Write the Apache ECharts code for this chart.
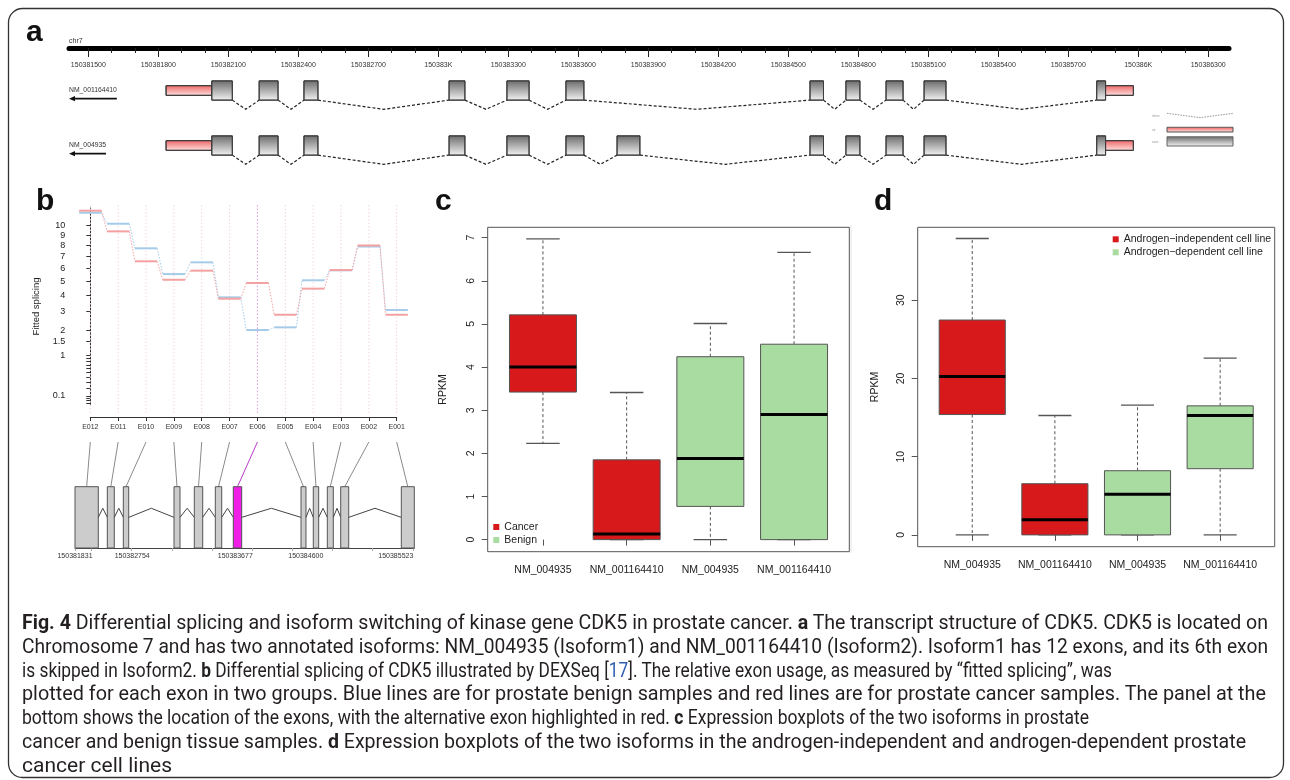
<!DOCTYPE html>
<html>
<head>
<meta charset="utf-8">
<script src="https://cdn.jsdelivr.net/npm/echarts@6/dist/echarts.min.js"></script>
<style>
html, body { margin: 0; padding: 0; background: #fff; }
#chart { position: absolute; left: 0; top: 0; width: 1290px; height: 780px; }
.cap { position: absolute; left: 22px; white-space: nowrap; font-family: 'Open Sans', sans-serif; font-size: 19.5px; line-height: 24px; color: #231f20; transform-origin: 0 50%; }
.cap b { font-weight: 700; }
.cap .ref { color: #2f5fb3; }
</style>
</head>
<body>
<div id="chart"></div>
<div id="caption"></div>
<script>
var FONT = '"Liberation Sans", Arial, Helvetica, sans-serif';
var RED = '#d7191c', GREEN = '#a9dca0';

/* a: CDK5 exons on chr7 (bp) */
var chrLabels = [150381500, 150381800, 150382100, 150382400, 150382700, 150383000, 150383300, 150383600,
  150383900, 150384200, 150384500, 150384800, 150385100, 150385400, 150385700, 150386000, 150386300];
var chrMin = 150381417, chrMax = 150386389;
var exonStart = [150381833, 150382232, 150382424, 150383046, 150383294, 150383547, 150383766, 150384593, 150384747, 150384919, 150385082, 150385822];
var exonEnd = [150382117, 150382313, 150382484, 150383114, 150383389, 150383624, 150383864, 150384651, 150384807, 150384992, 150385176, 150385979];
var cdsStart = 150382029, cdsEnd = 150385860;
var transcripts = ['NM_001164410', 'NM_004935'];
var skipped = [6, -1];

/* b: DEXSeq fitted splicing */
var dexExons = ['E012', 'E011', 'E010', 'E009', 'E008', 'E007', 'E006', 'E005', 'E004', 'E003', 'E002', 'E001'];
var altExon = 'E006';
var fittedCancer = [11.65, 9.41, 6.59, 5.10, 5.81, 3.77, 4.86, 2.80, 4.45, 5.86, 8.02, 2.80];
var fittedBenign = [11.42, 10.21, 7.75, 5.54, 6.50, 3.86, 2.01, 2.14, 5.06, 5.84, 7.92, 3.07];
var fittedTicks = [0.1, 1, 1.5, 2, 3, 4, 5, 6, 7, 8, 9, 10];
var fittedMinorTicks = [0.04, 0.06, 0.08, 0.2, 0.3, 0.4, 0.5, 0.6, 0.7, 0.8, 0.9];
var fitMin = 0.027, fitMax = 11.96;
// exon track under panel b, in relative track units 0-100
var trackStart = [0, 9.52, 14.24, 29.18, 35.16, 41.35, 46.65, 66.61, 70.23, 74.36, 78.31, 96.17];
var trackEnd = [6.87, 11.58, 15.83, 30.95, 37.64, 43.24, 49.13, 68.08, 71.82, 76.13, 80.67, 100];
var trackTickPos = [0, 4.92, 16.71, 28.68, 40.58, 52.25, 64.15, 75.94, 87.73, 99.71];
var trackLabelPos = [0, 16.86, 47.24, 68.02, 94.55];
var trackLabels = ['150381831', '150382754', '150383677', '150384600', '150385523'];

/* c, d: boxplots [min, Q1, median, Q3, max] */
var isoforms = ['NM_004935', 'NM_001164410', 'NM_004935', 'NM_001164410'];
var tissueGroups = ['Cancer', 'Benign'];
var tissueCancer = [[2.23, 3.42, 4.00, 5.21, 6.97], [0, 0, 0.13, 1.85, 3.41]];
var tissueBenign = [[0, 0.77, 1.88, 4.24, 5.01], [0, 0, 2.90, 4.53, 6.66]];
var rpkmTicksC = [0, 1, 2, 3, 4, 5, 6, 7];
var cellGroups = ['Androgen\u2212independent cell line', 'Androgen\u2212dependent cell line'];
var cellIndep = [[0, 15.38, 20.23, 27.46, 37.88], [0, 0, 1.95, 6.54, 15.26]];
var cellDep = [[0, 0, 5.18, 8.20, 16.58], [0, 8.46, 15.26, 16.49, 22.58]];
var rpkmTicksD = [0, 10, 20, 30];

var captionLines = [
  '<b>Fig. 4</b> Differential splicing and isoform switching of kinase gene CDK5 in prostate cancer. <b>a</b> The transcript structure of CDK5. CDK5 is located on',
  'Chromosome 7 and has two annotated isoforms: NM_004935 (Isoform1) and NM_001164410 (Isoform2). Isoform1 has 12 exons, and its 6th exon',
  'is skipped in Isoform2. <b>b</b> Differential splicing of CDK5 illustrated by DEXSeq [<span class="ref">17</span>]. The relative exon usage, as measured by \u201cfitted splicing\u201d, was',
  'plotted for each exon in two groups. Blue lines are for prostate benign samples and red lines are for prostate cancer samples. The panel at the',
  'bottom shows the location of the exons, with the alternative exon highlighted in red. <b>c</b> Expression boxplots of the two isoforms in prostate',
  'cancer and benign tissue samples. <b>d</b> Expression boxplots of the two isoforms in the androgen-independent and androgen-dependent prostate',
  'cancer cell lines'
];
var captionRight = [1268, 1268, 1112, 1266, 1089, 1246, 172];

function textWidth(text, size) {
  var ctx = document.createElement('canvas').getContext('2d');
  ctx.font = size + 'px ' + FONT;
  return ctx.measureText(text).width;
}

var boxFill = {type: 'linear', x: 0, y: 0, x2: 0, y2: 1, colorStops: [{offset: 0, color: '#6a6a6a'}, {offset: 1, color: '#f4f4f4'}]};
var utrFill = {type: 'linear', x: 0, y: 0, x2: 0, y2: 1, colorStops: [{offset: 0, color: '#ee6464'}, {offset: 1, color: '#ffe2e2'}]};

/* transcript tracks */
var exonItems = [], intronItems = [];
transcripts.forEach(function (t, r) {
  var kept = [];
  exonStart.forEach(function (s, k) { if (k !== skipped[r]) kept.push(k); });
  kept.forEach(function (k, j) {
    exonItems.push([exonStart[k], r, exonEnd[k]]);
    if (j < kept.length - 1) intronItems.push([exonEnd[k], r, exonStart[kept[j + 1]]]);
  });
});

function renderExon(params, api) {
  var s = api.value(0), r = api.value(1), e = api.value(2);
  var band = api.size([0, 1])[1];
  var cy = api.coord([s, r])[1];
  var kids = [];
  function piece(a, b, h, fill) {
    var p1 = api.coord([a, r]), p2 = api.coord([b, r]);
    kids.push({type: 'rect', shape: {x: p1[0], y: cy - h / 2, width: p2[0] - p1[0], height: h},
      style: {fill: fill, stroke: '#3c3c3c', lineWidth: 1}});
  }
  if (s < cdsStart) piece(s, Math.min(e, cdsStart), band * 0.176, utrFill);
  if (Math.min(e, cdsEnd) > Math.max(s, cdsStart)) piece(Math.max(s, cdsStart), Math.min(e, cdsEnd), band * 0.35, boxFill);
  if (e > cdsEnd) piece(Math.max(s, cdsEnd), e, band * 0.176, utrFill);
  return {type: 'group', children: kids};
}

function renderIntron(params, api) {
  var a = api.value(0), r = api.value(1), b = api.value(2);
  var band = api.size([0, 1])[1];
  var p1 = api.coord([a, r]), p2 = api.coord([b, r]);
  var yb = p1[1] + band * 0.175;
  return {type: 'polyline', shape: {points: [[p1[0], yb], [(p1[0] + p2[0]) / 2, yb + band * 0.167], [p2[0], yb]]},
    style: {stroke: '#222', lineWidth: 1.2, lineDash: [3, 2], fill: null}};
}

function renderArrow(params, api) {
  var r = api.value(1);
  var y = api.coord([chrMin, r])[1] + 8.2;
  var x0 = params.coordSys.x;
  var w = textWidth(transcripts[r], 6.8);
  return {type: 'group', children: [
    {type: 'line', shape: {x1: x0 + 4, y1: y, x2: x0 + w, y2: y}, style: {stroke: '#111', lineWidth: 1.8}},
    {type: 'polygon', shape: {points: [[x0, y], [x0 + 6, y - 2.6], [x0 + 6, y + 2.6]]}, style: {fill: '#111'}}
  ]};
}

/* panel b */
function renderGuide(params, api) {
  var i = api.value(0);
  var x = api.coord([i, 1])[0];
  var cs = params.coordSys;
  return {type: 'line', shape: {x1: x, y1: cs.y - 3, x2: x, y2: cs.y + cs.height + 10},
    style: {stroke: dexExons[i] === altExon ? '#dc9ddc' : '#f0d6dc', lineWidth: 1, lineDash: [1.5, 2]}};
}

function fitRenderer(values) {
  return function (params, api) {
    var i = api.value(0), v = values[i];
    var a = api.coord([i - 0.4, Math.sqrt(v)]), b = api.coord([i + 0.4, Math.sqrt(v)]);
    var color = api.visual('color');
    var kids = [{type: 'line', shape: {x1: a[0], y1: a[1], x2: b[0], y2: b[1]}, style: {stroke: color, lineWidth: 2}}];
    if (i < values.length - 1) {
      var c = api.coord([i + 0.6, Math.sqrt(values[i + 1])]);
      kids.push({type: 'line', shape: {x1: b[0], y1: b[1], x2: c[0], y2: c[1]}, style: {stroke: color, lineWidth: 1, lineDash: [1.5, 1.5]}});
    }
    return {type: 'group', children: kids};
  };
}

function renderTrack(params, api) {
  var s = api.value(0), e = api.value(2), i = api.value(3);
  var p1 = api.coord([s, 1]), p2 = api.coord([e, 0]);
  var kids = [{type: 'rect', shape: {x: p1[0], y: p1[1], width: p2[0] - p1[0], height: p2[1] - p1[1]},
    style: {fill: dexExons[i] === altExon ? '#f01ee6' : '#cccccc', stroke: '#555', lineWidth: 1}}];
  if (i < trackStart.length - 1) {
    var ns = trackStart[i + 1];
    var q1 = api.coord([e, 0.5]), q2 = api.coord([(e + ns) / 2, 0.648]), q3 = api.coord([ns, 0.5]);
    kids.push({type: 'polyline', shape: {points: [q1, q2, q3]}, style: {stroke: '#444', lineWidth: 1, fill: null}});
  }
  return {type: 'group', children: kids};
}

/* R-style boxplot */
function renderBox(params, api) {
  var x = api.value(0), lo = api.value(1), q1 = api.value(2), med = api.value(3), q3 = api.value(4), hi = api.value(5);
  var tl = api.coord([x - 0.4, q3]), br = api.coord([x + 0.4, q1]);
  var mx = api.coord([x, med]);
  var whisk = {stroke: '#555', lineWidth: 1, lineDash: [3, 2.5]};
  var cap = {stroke: '#555', lineWidth: 1.3};
  function seg(a, b, st) { return {type: 'line', shape: {x1: a[0], y1: a[1], x2: b[0], y2: b[1]}, style: st}; }
  return {type: 'group', children: [
    seg(api.coord([x, q3]), api.coord([x, hi]), whisk),
    seg(api.coord([x, q1]), api.coord([x, lo]), whisk),
    seg(api.coord([x - 0.2, hi]), api.coord([x + 0.2, hi]), cap),
    seg(api.coord([x - 0.2, lo]), api.coord([x + 0.2, lo]), cap),
    {type: 'rect', shape: {x: tl[0], y: tl[1], width: br[0] - tl[0], height: br[1] - tl[1]},
      style: {fill: api.visual('color'), stroke: '#555', lineWidth: 1}},
    seg([tl[0], mx[1]], [br[0], mx[1]], {stroke: '#000', lineWidth: 3})
  ]};
}

function boxData(groupVals, firstPos) {
  return groupVals.map(function (d, i) { return [firstPos + i].concat(d); });
}

var chrMinor = [];
for (var t = chrLabels[0]; t <= chrLabels[chrLabels.length - 1]; t += 100) chrMinor.push(t);
var dexIdx = dexExons.map(function (d, i) { return i; });

function axisBase(grid, min, max) {
  return {gridIndex: grid, type: 'value', min: min, max: max, splitLine: {show: false}};
}

var baseGraphic = [
  {type: 'rect', shape: {x: 8.5, y: 8.5, width: 1275, height: 769, r: 14}, style: {fill: 'none', stroke: '#333', lineWidth: 1.3}},
  {type: 'text', x: 26, y: 33, style: {text: 'a', font: 'bold 30px ' + FONT, fill: '#111', verticalAlign: 'middle'}},
  {type: 'text', x: 36, y: 202, style: {text: 'b', font: 'bold 30px ' + FONT, fill: '#111', verticalAlign: 'middle'}},
  {type: 'text', x: 435, y: 202, style: {text: 'c', font: 'bold 30px ' + FONT, fill: '#111', verticalAlign: 'middle'}},
  {type: 'text', x: 874, y: 202, style: {text: 'd', font: 'bold 30px ' + FONT, fill: '#111', verticalAlign: 'middle'}},
  {type: 'text', x: 69, y: 41, style: {text: 'chr7', font: '7px ' + FONT, fill: '#333', verticalAlign: 'middle'}},
  // gene model key
  {type: 'text', x: 1152, y: 116, style: {text: 'intron', font: '3px ' + FONT, fill: '#999', verticalAlign: 'middle'}},
  {type: 'text', x: 1152, y: 130, style: {text: 'utr', font: '3px ' + FONT, fill: '#999', verticalAlign: 'middle'}},
  {type: 'text', x: 1152, y: 142, style: {text: 'exon', font: '3px ' + FONT, fill: '#999', verticalAlign: 'middle'}},
  {type: 'polyline', shape: {points: [[1167, 113.3], [1200, 117.7], [1233, 113.3]]}, style: {stroke: '#777', lineWidth: 0.8, lineDash: [1.5, 1.2], fill: null}},
  {type: 'rect', shape: {x: 1167, y: 127.3, width: 66, height: 4.7}, style: {fill: utrFill, stroke: '#555', lineWidth: 0.6}},
  {type: 'rect', shape: {x: 1167, y: 136.7, width: 66, height: 9.3}, style: {fill: boxFill, stroke: '#666', lineWidth: 0.6}},
  {type: 'line', shape: {x1: 851, y1: 225, x2: 851, y2: 553}, style: {stroke: '#e4e4e4', lineWidth: 1}}
];

var legendCommon = {orient: 'vertical', icon: 'rect', itemWidth: 6, itemHeight: 6, itemGap: 0, padding: 0, selectedMode: false,
  textStyle: {fontSize: 10.5, color: '#222', lineHeight: 13, fontFamily: FONT}};

var option = {
  animation: false,
  textStyle: {fontFamily: FONT, color: '#222'},
  grid: [
    {left: 69, top: 20, width: 1160, height: 28, outerBoundsMode: 'none'},
    {left: 69, top: 63, width: 1160, height: 110, outerBoundsMode: 'none'},
    {left: 90.3, top: 208, width: 306.4, height: 197, outerBoundsMode: 'none'},
    {left: 75, top: 486.7, width: 339.3, height: 61.3, outerBoundsMode: 'none'},
    {left: 487.7, top: 227.3, width: 361.6, height: 324.4, show: true, borderColor: '#555', borderWidth: 1, outerBoundsMode: 'none'},
    {left: 917.7, top: 227.3, width: 357, height: 319.4, show: true, borderColor: '#555', borderWidth: 1, outerBoundsMode: 'none'}
  ],
  xAxis: [
    Object.assign(axisBase(0, chrMin, chrMax), {position: 'bottom',
      axisLine: {lineStyle: {color: '#000', width: 5, cap: 'round'}},
      axisTick: {customValues: chrLabels, length: 9, lineStyle: {color: '#222', width: 1}},
      axisLabel: {customValues: chrLabels, fontSize: 7, color: '#333', margin: 14,
        formatter: function (v) { return v % 1000 === 0 ? (v / 1000) + 'K' : String(v); }}}),
    Object.assign(axisBase(0, chrMin, chrMax), {position: 'bottom', axisLine: {show: false},
      axisTick: {customValues: chrMinor, length: 5, lineStyle: {color: '#222', width: 1}}, axisLabel: {show: false}}),
    Object.assign(axisBase(1, chrMin, chrMax), {show: false}),
    Object.assign(axisBase(2, 0, dexExons.length - 1), {offset: 12,
      axisLine: {lineStyle: {color: '#333'}},
      axisTick: {customValues: dexIdx, length: 4, lineStyle: {color: '#333'}},
      axisLabel: {customValues: dexIdx, fontSize: 7, color: '#333', margin: 7,
        formatter: function (v) { return dexExons[v]; }}}),
    Object.assign(axisBase(3, 0, 100), {
      axisLine: {lineStyle: {color: '#444'}},
      axisTick: {customValues: trackTickPos, length: 3, lineStyle: {color: '#aaa'}},
      axisLabel: {customValues: trackLabelPos, fontSize: 7, color: '#333', margin: 5,
        formatter: function (v) { var k = trackLabelPos.indexOf(v); return k >= 0 ? trackLabels[k] : ''; }}}),
    Object.assign(axisBase(4, 0.34, 4.66), {axisLine: {show: false},
      axisTick: {customValues: [1, 2, 3, 4], length: 6, lineStyle: {color: '#555'}},
      axisLabel: {customValues: [1, 2, 3, 4], fontSize: 10.5, color: '#222', margin: 13,
        formatter: function (v) { return isoforms[v - 1]; }}}),
    Object.assign(axisBase(5, 0.34, 4.66), {axisLine: {show: false},
      axisTick: {customValues: [1, 2, 3, 4], length: 6, lineStyle: {color: '#555'}},
      axisLabel: {customValues: [1, 2, 3, 4], fontSize: 10.5, color: '#222', margin: 13,
        formatter: function (v) { return isoforms[v - 1]; }}})
  ],
  yAxis: [
    {gridIndex: 0, type: 'value', show: false},
    {gridIndex: 1, type: 'category', data: transcripts, inverse: true,
      axisLine: {show: false}, axisTick: {show: false}, splitLine: {show: false},
      axisLabel: {inside: true, margin: 0, fontSize: 6.8, color: '#333'}},
    Object.assign(axisBase(2, Math.sqrt(fitMin), Math.sqrt(fitMax)), {offset: 20,
      axisLine: {show: true, lineStyle: {color: '#333'}},
      axisTick: {show: true, customValues: fittedTicks.concat(fittedMinorTicks).map(Math.sqrt), length: 4, lineStyle: {color: '#333'}},
      axisLabel: {customValues: fittedTicks.map(Math.sqrt), fontSize: 9, color: '#222', margin: 5,
        formatter: function (v) { return String(Math.round(v * v * 10) / 10); }},
      name: 'Fitted splicing', nameLocation: 'middle', nameGap: 29, nameTextStyle: {fontSize: 9.5, color: '#222'}}),
    {gridIndex: 3, type: 'value', min: 0, max: 1, show: false},
    Object.assign(axisBase(4, -0.28, 7.24), {axisLine: {show: false},
      axisTick: {customValues: rpkmTicksC, length: 6, lineStyle: {color: '#555'}},
      axisLabel: {customValues: rpkmTicksC, rotate: 90, fontSize: 10.5, color: '#222', margin: 11},
      name: 'RPKM', nameLocation: 'middle', nameGap: 39, nameTextStyle: {fontSize: 10.5, color: '#222'}}),
    Object.assign(axisBase(5, -1.51, 39.31), {axisLine: {show: false},
      axisTick: {customValues: rpkmTicksD, length: 6, lineStyle: {color: '#555'}},
      axisLabel: {customValues: rpkmTicksD, rotate: 90, fontSize: 10.5, color: '#222', margin: 11},
      name: 'RPKM', nameLocation: 'middle', nameGap: 37, nameTextStyle: {fontSize: 10.5, color: '#222'}})
  ],
  legend: [
    Object.assign({data: tissueGroups, left: 493.3, top: 520.5}, legendCommon),
    Object.assign({data: cellGroups, left: 1112.7, top: 232.8}, legendCommon)
  ],
  series: [
    {type: 'custom', name: 'introns', xAxisIndex: 2, yAxisIndex: 1, renderItem: renderIntron, data: intronItems, clip: false},
    {type: 'custom', name: 'exons', xAxisIndex: 2, yAxisIndex: 1, renderItem: renderExon, data: exonItems, clip: false},
    {type: 'custom', name: 'strand', xAxisIndex: 2, yAxisIndex: 1, renderItem: renderArrow,
      data: transcripts.map(function (t, r) { return [chrMin, r]; }), clip: false},
    {type: 'custom', name: 'guides', xAxisIndex: 3, yAxisIndex: 2, renderItem: renderGuide,
      data: dexIdx.map(function (i) { return [i, 1]; }), clip: false, z: 1},
    {type: 'custom', name: 'Benign fit', xAxisIndex: 3, yAxisIndex: 2, renderItem: fitRenderer(fittedBenign),
      itemStyle: {color: '#a6cbe8'}, data: fittedBenign.map(function (v, i) { return [i, Math.sqrt(v)]; }), clip: false, z: 2},
    {type: 'custom', name: 'Cancer fit', xAxisIndex: 3, yAxisIndex: 2, renderItem: fitRenderer(fittedCancer),
      itemStyle: {color: '#f4a1a1'}, data: fittedCancer.map(function (v, i) { return [i, Math.sqrt(v)]; }), clip: false, z: 2},
    {type: 'custom', name: 'track', xAxisIndex: 4, yAxisIndex: 3, renderItem: renderTrack,
      data: trackStart.map(function (s, i) { return [s, 0, trackEnd[i], i]; }), clip: false},
    {type: 'custom', name: tissueGroups[0], xAxisIndex: 5, yAxisIndex: 4, renderItem: renderBox,
      itemStyle: {color: RED}, encode: {x: 0, y: [1, 2, 3, 4, 5]}, data: boxData(tissueCancer, 1)},
    {type: 'custom', name: tissueGroups[1], xAxisIndex: 5, yAxisIndex: 4, renderItem: renderBox,
      itemStyle: {color: GREEN}, encode: {x: 0, y: [1, 2, 3, 4, 5]}, data: boxData(tissueBenign, 3)},
    {type: 'custom', name: cellGroups[0], xAxisIndex: 6, yAxisIndex: 5, renderItem: renderBox,
      itemStyle: {color: RED}, encode: {x: 0, y: [1, 2, 3, 4, 5]}, data: boxData(cellIndep, 1)},
    {type: 'custom', name: cellGroups[1], xAxisIndex: 6, yAxisIndex: 5, renderItem: renderBox,
      itemStyle: {color: GREEN}, encode: {x: 0, y: [1, 2, 3, 4, 5]}, data: boxData(cellDep, 3)}
  ],
  graphic: {elements: baseGraphic}
};

var chart = echarts.init(document.getElementById('chart'));
chart.setOption(option);

/* lines linking each DEXSeq column to its exon in the track below */
var links = dexExons.map(function (name, i) {
  var xTop = chart.convertToPixel({xAxisIndex: 3}, i);
  var yTop = chart.convertToPixel({yAxisIndex: 2}, Math.sqrt(fitMin)) + 37;
  var bot = chart.convertToPixel({gridIndex: 3}, [(trackStart[i] + trackEnd[i]) / 2, 1]);
  return {type: 'line', shape: {x1: xTop, y1: yTop, x2: bot[0], y2: bot[1]},
    style: {stroke: name === altExon ? '#b83cc4' : '#8a8a8a', lineWidth: 1}};
});
chart.setOption({graphic: {elements: baseGraphic.concat(links)}});

/* caption: pick the installed face whose line lengths best match the original wrap */
var cap = document.getElementById('caption');
var capEls = captionLines.map(function (html, k) {
  var el = document.createElement('div');
  el.className = 'cap';
  el.style.top = (611 + k * 23.8) + 'px';
  el.innerHTML = html;
  cap.appendChild(el);
  return el;
});
var capFaces = ['"Open Sans"', 'Lato', 'Roboto', '"Noto Sans"', 'Inter', '"Liberation Sans"', '"DejaVu Sans"',
  '"Liberation Sans Narrow"', '"DejaVu Sans Condensed"'];
function fitCaption() {
  var best = null;
  capFaces.forEach(function (face) {
    var nat = capEls.map(function (el) {
      el.style.transform = 'none';
      el.style.fontFamily = face + ', sans-serif';
      return el.getBoundingClientRect().width;
    });
    var num = 0, den = 0, err = 0;
    nat.forEach(function (n, k) { var tg = captionRight[k] - 22; num += n * tg; den += n * n; });
    var s = num / den;
    nat.forEach(function (n, k) { var d = s * n - (captionRight[k] - 22); err += d * d; });
    if (!best || err < best.err) best = {face: face, err: err, nat: nat};
  });
  capEls.forEach(function (el, k) {
    el.style.fontFamily = best.face + ', sans-serif';
    el.style.transform = 'scaleX(' + ((captionRight[k] - 22) / best.nat[k]) + ')';
  });
}
fitCaption();
if (document.fonts && document.fonts.ready) document.fonts.ready.then(fitCaption);
</script>
</body>
</html>
